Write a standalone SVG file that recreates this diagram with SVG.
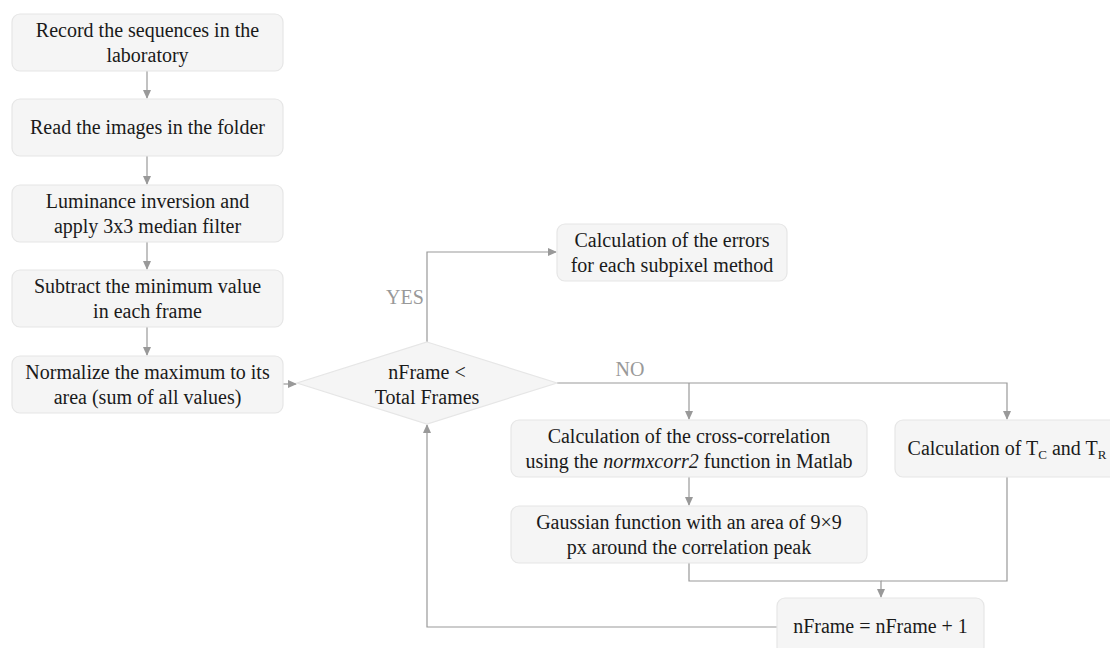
<svg xmlns="http://www.w3.org/2000/svg" width="1110" height="648" viewBox="0 0 1110 648">
<style>
.box{fill:#f5f5f5;stroke:#e6e6e6;stroke-width:1.2}
text{font-family:'Liberation Serif',Tinos,'Times New Roman','Nimbus Roman','DejaVu Serif Condensed','DejaVu Serif',serif;font-size:20px;text-anchor:middle}
.t{fill:#1a1a1a}
.lbl{fill:#999999}
.c{fill:none;stroke:#999999;stroke-width:1.2}
</style>
<defs>
<marker id="ah" markerUnits="userSpaceOnUse" markerWidth="9" markerHeight="8" refX="8" refY="4" orient="auto">
<path d="M0,0 L9,4 L0,8 z" fill="#999999"/>
</marker>
</defs>
<g id="connectors">
<path class="c" d="M147,71 V98" marker-end="url(#ah)"/>
<path class="c" d="M147,156 V184" marker-end="url(#ah)"/>
<path class="c" d="M147,242 V269" marker-end="url(#ah)"/>
<path class="c" d="M147,327 V355" marker-end="url(#ah)"/>
<path class="c" d="M283,384 H296" marker-end="url(#ah)"/>
<path class="c" d="M427,342 V252 H556" marker-end="url(#ah)"/>
<path class="c" d="M557,383 H1007 V419" marker-end="url(#ah)"/>
<path class="c" d="M689,383 V419" marker-end="url(#ah)"/>
<path class="c" d="M689,477 V505" marker-end="url(#ah)"/>
<path class="c" d="M689,563 V581 H881 V597" marker-end="url(#ah)"/>
<path class="c" d="M1007,477 V581 H881"/>
<path class="c" d="M777,627 H427 V425" marker-end="url(#ah)"/>
</g>
<g id="n1"><rect class="box" x="12" y="14" width="271" height="57" rx="8"/>
<text class="t" x="147.5" y="36.5">Record the sequences in the</text>
<text class="t" x="147.5" y="62">laboratory</text></g>
<g id="n2"><rect class="box" x="12" y="99" width="271" height="57" rx="8"/>
<text class="t" x="147.5" y="134">Read the images in the folder</text></g>
<g id="n3"><rect class="box" x="12" y="185" width="271" height="57" rx="8"/>
<text class="t" x="147.5" y="207.5">Luminance inversion and</text>
<text class="t" x="147.5" y="233">apply 3x3 median filter</text></g>
<g id="n4"><rect class="box" x="12" y="270" width="271" height="57" rx="8"/>
<text class="t" x="147.5" y="292.5">Subtract the minimum value</text>
<text class="t" x="147.5" y="318">in each frame</text></g>
<g id="n5"><rect class="box" x="12" y="356" width="271" height="57" rx="8"/>
<text class="t" x="147.5" y="378.5">Normalize the maximum to its</text>
<text class="t" x="147.5" y="404">area (sum of all values)</text></g>
<g id="decision"><path class="box" d="M427,342 L557,383 L427,424 L297,383 Z"/>
<text class="t" x="427" y="379">nFrame &lt;</text>
<text class="t" x="427" y="404">Total Frames</text></g>
<g id="labels">
<text class="lbl" x="405" y="304">YES</text>
<text class="lbl" x="630" y="376">NO</text></g>
<g id="errors"><rect class="box" x="557" y="224" width="230" height="57" rx="8"/>
<text class="t" x="672" y="247">Calculation of the errors</text>
<text class="t" x="672" y="272">for each subpixel method</text></g>
<g id="xcorr"><rect class="box" x="511" y="420" width="356" height="57" rx="8"/>
<text class="t" x="689" y="443">Calculation of the cross-correlation</text>
<text class="t" x="689" y="468">using the <tspan font-style="italic">normxcorr2</tspan> function in Matlab</text></g>
<g id="gauss"><rect class="box" x="511" y="506" width="356" height="57" rx="8"/>
<text class="t" x="689" y="529">Gaussian function with an area of 9×9</text>
<text class="t" x="689" y="554">px around the correlation peak</text></g>
<g id="tctr"><rect class="box" x="895" y="420" width="224" height="57" rx="8"/>
<text class="t" x="1007" y="455">Calculation of T<tspan font-size="13" dy="4">C</tspan><tspan dy="-4"> and T</tspan><tspan font-size="13" dy="4">R</tspan></text></g>
<g id="incr"><rect class="box" x="777" y="598" width="207" height="57" rx="8"/>
<text class="t" x="880.5" y="633">nFrame = nFrame + 1</text></g>
</svg>
